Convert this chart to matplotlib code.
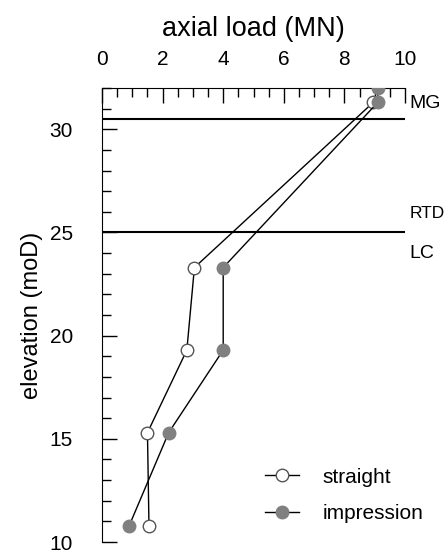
import matplotlib
matplotlib.use("Agg")
import matplotlib.pyplot as plt
from matplotlib.ticker import MultipleLocator

plt.rcParams['font.family'] = ['Liberation Sans', 'DejaVu Sans']

straight_load = [8.95, 3.05, 2.8, 1.5, 1.55]
straight_elev = [31.3, 23.3, 19.3, 15.3, 10.8]
impression_load = [9.1, 9.1, 4.0, 4.0, 2.2, 0.9]
impression_elev = [32.0, 31.3, 23.3, 19.3, 15.3, 10.8]
layer_elev = [30.5, 25.0]
layer_labels = [("MG", 31.25, 14), ("RTD", 25.9, 12.5), ("LC", 24.0, 14)]

fig = plt.figure(figsize=(4.48, 5.5), dpi=100)
ax = fig.add_axes([0.2277, 0.0145, 0.6763, 0.8255])

ax.plot(straight_load, straight_elev, color='black', lw=1, marker='o',
        markersize=9, markerfacecolor='white', markeredgecolor='#555555',
        markeredgewidth=1, label='straight', zorder=3)
ax.plot(impression_load, impression_elev, color='black', lw=1, marker='o',
        markersize=9, markerfacecolor='#808080', markeredgecolor='#808080',
        label='impression', zorder=4)

for e in layer_elev:
    ax.plot([0, 10], [e, e], color='black', lw=1.5, zorder=2)

for txt, y, fs in layer_labels:
    ax.text(10.15, y, txt, fontsize=fs, va='center', ha='left', clip_on=False)

ax.set_xlim(0, 10)
ax.set_ylim(10, 32)
ax.xaxis.set_ticks_position('top')
ax.xaxis.set_label_position('top')
ax.xaxis.set_major_locator(MultipleLocator(2))
ax.xaxis.set_minor_locator(MultipleLocator(0.5))
ax.yaxis.set_major_locator(MultipleLocator(5))
ax.yaxis.set_minor_locator(MultipleLocator(1))
ax.tick_params(which='both', direction='in', labelsize=15, width=1)
ax.tick_params(which='major', length=10.8)
ax.tick_params(which='minor', length=6.5)
ax.tick_params(axis='x', which='major', pad=13.5)
ax.tick_params(axis='y', which='major', pad=21)
ax.spines['right'].set_visible(False)
ax.spines['bottom'].set_visible(False)
ax.set_xlabel('axial load (MN)', fontsize=19.5, labelpad=10)
ax.set_ylabel('elevation (moD)', fontsize=17, labelpad=5)

leg = ax.legend(loc='lower right', frameon=False, fontsize=15,
                bbox_to_anchor=(1.123, 0.0), handlelength=1.6,
                handletextpad=1.15, labelspacing=0.84)

fig.savefig('out.png', dpi=100)
